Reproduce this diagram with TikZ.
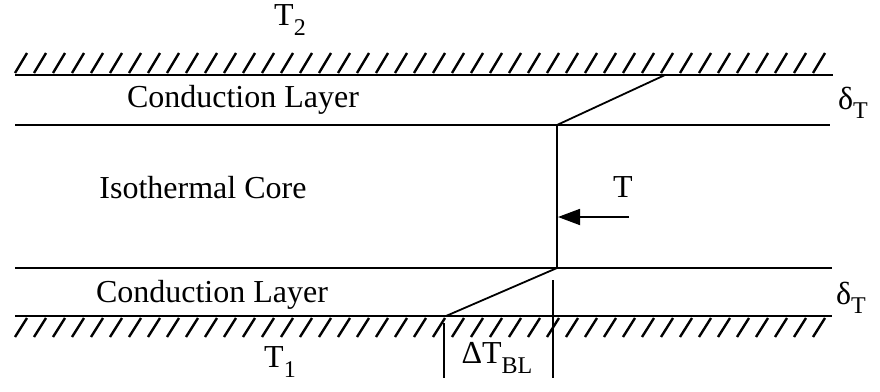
\documentclass[tikz,border=0pt]{standalone}
\usepackage{fontspec}
\setmainfont{Liberation Serif}
\usetikzlibrary{arrows.meta}
\newcommand{\lowsub}[1]{\raisebox{-0.3em}{\fontsize{24pt}{26pt}\selectfont #1}}
\tikzset{
  wall/.style={line width=2pt},
  thin/.style={line width=1.8pt},
  hatch/.style={line width=2.4pt},
  lbl/.style={inner sep=0pt, font=\fontsize{32pt}{36pt}\selectfont},
}
\begin{document}
\begin{tikzpicture}[x=1pt,y=-1pt]
\useasboundingbox (0,0) rectangle (880,391);
% coordinates
\coordinate (tl) at (15,75);   \coordinate (tr) at (833,75);
\coordinate (ul) at (15,125);  \coordinate (ur) at (830,125);
\coordinate (ll) at (15,268);  \coordinate (lr) at (832,268);
\coordinate (bl) at (15,316);  \coordinate (br) at (832,316);
\coordinate (ptop) at (665,75);
\coordinate (pu) at (557,125);
\coordinate (pl) at (557,268);
\coordinate (pbot) at (446,316);
\coordinate (tickA1) at (444,323); \coordinate (tickA2) at (444,378);
\coordinate (tickB1) at (553,280); \coordinate (tickB2) at (553,378);
\coordinate (arrS) at (629,217); \coordinate (arrE) at (558,217);
% walls and lines
\draw[wall] (tl) -- (tr);
\draw[thin] (ul) -- (ur);
\draw[thin] (ll) -- (lr);
\draw[wall] (bl) -- (br);
\foreach \x in {15,34,...,820} \draw[hatch] (\x,73) -- (\x+12,53);
\foreach \x in {15,34,...,820} \draw[hatch] (\x,337) -- (\x+12,318);
% profile
\draw[thin] (ptop) -- (pu) -- (pl) -- (pbot);
\draw[thin] (tickA1) -- (tickA2);
\draw[thin] (tickB1) -- (tickB2);
\draw[thin,-{Triangle[length=22pt,width=16pt]}] (arrS) -- (arrE);
% labels
\node[lbl] (t2) at (290,20) {T\lowsub{2}};
\node[lbl] (cl1) at (243,100) {Conduction Layer};
\node[lbl] (core) at (203,188) {Isothermal Core};
\node[lbl] (cl2) at (212,295) {Conduction Layer};
\node[lbl] (t1) at (280,362) {T\lowsub{1}};
\node[lbl] (d1) at (853,103) {δ\lowsub{T}};
\node[lbl] (d2) at (851,298) {δ\lowsub{T}};
\node[lbl] (tt) at (623,187) {T};
\node[lbl] (dtbl) at (497,358) {ΔT\lowsub{BL}};
\end{tikzpicture}
\end{document}
